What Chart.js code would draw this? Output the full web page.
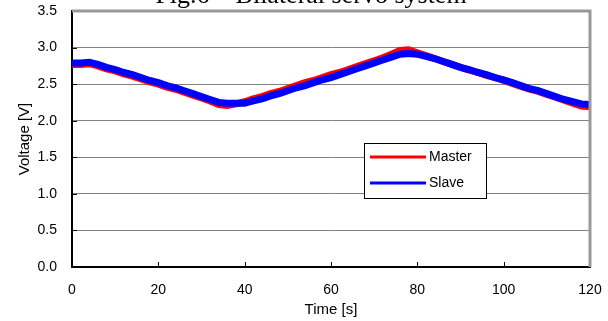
<!DOCTYPE html>
<html>
<head>
<meta charset="utf-8">
<script src="https://cdn.jsdelivr.net/npm/chart.js@4"></script>
<style>
    body { margin: 0; background: #fff; }
    canvas { display: block; }
</style>
</head>
<body>
<canvas id="canvas" width="608" height="321"></canvas>
<script>
// Data (every 2 s)
const times = [0, 2, 4, 6, 8, 10, 12, 14, 16, 18, 20, 22, 24, 26, 28, 30, 32, 34, 36, 38, 40,
    42, 44, 46, 48, 50, 52, 54, 56, 58, 60, 62, 64, 66, 68, 70, 72, 74, 76, 78, 80,
    82, 84, 86, 88, 90, 92, 94, 96, 98, 100, 102, 104, 106, 108, 110, 112, 114, 116, 118, 120];
const masterVolts = [2.77, 2.77, 2.78, 2.75, 2.71, 2.68, 2.64, 2.61, 2.57, 2.53, 2.50, 2.46, 2.43, 2.39, 2.35, 2.31, 2.27, 2.22, 2.21, 2.23, 2.26,
    2.30, 2.33, 2.37, 2.40, 2.44, 2.48, 2.52, 2.55, 2.59, 2.63, 2.66, 2.70, 2.74, 2.78, 2.82, 2.86, 2.91, 2.96, 2.97, 2.93,
    2.89, 2.85, 2.81, 2.77, 2.73, 2.69, 2.66, 2.62, 2.59, 2.55, 2.51, 2.47, 2.43, 2.40, 2.36, 2.32, 2.28, 2.24, 2.20, 2.19];
const slaveVolts = [2.79, 2.79, 2.80, 2.77, 2.73, 2.70, 2.66, 2.63, 2.59, 2.55, 2.52, 2.48, 2.45, 2.41, 2.37, 2.33, 2.29, 2.25, 2.24, 2.24, 2.24,
    2.27, 2.30, 2.34, 2.37, 2.41, 2.45, 2.48, 2.52, 2.56, 2.59, 2.63, 2.67, 2.71, 2.75, 2.79, 2.83, 2.87, 2.91, 2.92, 2.91,
    2.88, 2.85, 2.81, 2.77, 2.73, 2.70, 2.66, 2.63, 2.59, 2.56, 2.52, 2.48, 2.44, 2.41, 2.37, 2.33, 2.29, 2.26, 2.23, 2.22];
const seriesNames = ['Master', 'Slave'];
const seriesColors = ['#ff0000', '#0000ff'];
const xTicks = [0, 20, 40, 60, 80, 100, 120];
const yTicks = [0, 0.5, 1.0, 1.5, 2.0, 2.5, 3.0, 3.5];
const chartTitle = 'Fig.6 \u2013 Bilateral servo system';

const tickFont = { family: "'Liberation Sans', Arial, sans-serif", size: 14 };
const titleFont = { family: "'Liberation Sans', Arial, sans-serif", size: 15 };

function toPoints(values) {
    return values.map((v, i) => ({ x: times[i], y: v }));
}

/**
 * Title cut off at the top, frame, inward ticks and the boxed legend.
 */
const decorPlugin = {
    id: 'decor',
    afterDraw(chart) {
        const ctx = chart.ctx;
        const area = chart.chartArea;
        const xs = chart.scales.x;
        const ys = chart.scales.y;
        ctx.save();

        // title (only the lower half shows)
        ctx.font = "26px 'Liberation Serif', 'Times New Roman', serif";
        ctx.fillStyle = '#000';
        ctx.textAlign = 'center';
        ctx.textBaseline = 'alphabetic';
        ctx.fillText(chartTitle, 311, 3);

        // gray top and right frame
        ctx.strokeStyle = '#999';
        ctx.lineWidth = 3;
        ctx.beginPath();
        ctx.moveTo(area.left, area.top);
        ctx.lineTo(area.right, area.top);
        ctx.lineTo(area.right, area.bottom);
        ctx.stroke();

        // small tick marks pointing into the plot
        ctx.strokeStyle = '#000';
        ctx.lineWidth = 1;
        xTicks.slice(1, -1).forEach(t => {
            const px = Math.round(xs.getPixelForValue(t)) + 0.5;
            ctx.beginPath();
            ctx.moveTo(px, area.bottom);
            ctx.lineTo(px, area.bottom - 5);
            ctx.stroke();
        });
        yTicks.slice(1, -1).forEach(v => {
            const py = Math.round(ys.getPixelForValue(v)) + 0.5;
            ctx.beginPath();
            ctx.moveTo(area.left, py);
            ctx.lineTo(area.left + 5, py);
            ctx.stroke();
        });

        // legend box
        const bx = 364.5, by = 143.5, bw = 122, bh = 55;
        ctx.fillStyle = '#fff';
        ctx.fillRect(bx, by, bw, bh);
        ctx.strokeStyle = '#000';
        ctx.lineWidth = 1;
        ctx.strokeRect(bx, by, bw, bh);
        ctx.font = "14px 'Liberation Sans', Arial, sans-serif";
        ctx.textAlign = 'left';
        ctx.textBaseline = 'middle';
        chart.data.datasets.forEach((ds, i) => {
            const ly = 157 + i * 26;
            ctx.strokeStyle = ds.borderColor;
            ctx.lineWidth = 3;
            ctx.beginPath();
            ctx.moveTo(370, ly);
            ctx.lineTo(426, ly);
            ctx.stroke();
            ctx.fillStyle = '#000';
            ctx.fillText(ds.label, 429, ly);
        });
        ctx.restore();
    }
};

const config = {
    type: 'line',
    data: {
        datasets: seriesNames.map((name, i) => ({
            label: name,
            data: toPoints(i === 0 ? masterVolts : slaveVolts),
            borderColor: seriesColors[i],
            borderWidth: 7,
            pointRadius: 0,
            tension: 0,
            order: i === 0 ? 2 : 1
        }))
    },
    options: {
        responsive: false,
        animation: false,
        layout: { autoPadding: false, padding: { top: 11, right: 18, left: 0, bottom: 0 } },
        plugins: {
            legend: { display: false },
            tooltip: { enabled: false }
        },
        scales: {
            x: {
                type: 'linear',
                min: 0,
                max: 120,
                afterBuildTicks: s => { s.ticks = xTicks.map(v => ({ value: v })); },
                afterFit: s => { s.height = 54; s.paddingLeft = 0; s.paddingRight = 0; },
                grid: { display: false, drawTicks: false },
                border: { color: '#000', width: 2 },
                ticks: { font: tickFont, color: '#000', padding: 15, maxRotation: 0 },
                title: {
                    display: true,
                    text: 'Time [s]',
                    font: titleFont,
                    color: '#000',
                    padding: { top: 0, bottom: 2 }
                }
            },
            y: {
                min: 0,
                max: 3.5,
                afterBuildTicks: s => { s.ticks = yTicks.map(v => ({ value: v })); },
                afterFit: s => { s.width = 72; s.paddingTop = 0; s.paddingBottom = 0; },
                grid: { color: '#808080', lineWidth: 1, drawTicks: false },
                border: { color: '#000', width: 2 },
                ticks: {
                    font: tickFont,
                    color: '#000',
                    padding: 15,
                    callback: v => v.toFixed(1)
                },
                title: {
                    display: true,
                    text: 'Voltage [V]',
                    font: titleFont,
                    color: '#000',
                    padding: { top: 16, bottom: 0 }
                }
            }
        }
    },
    plugins: [decorPlugin]
};

let myChart = new Chart('canvas', config);
</script>
</body>
</html>
